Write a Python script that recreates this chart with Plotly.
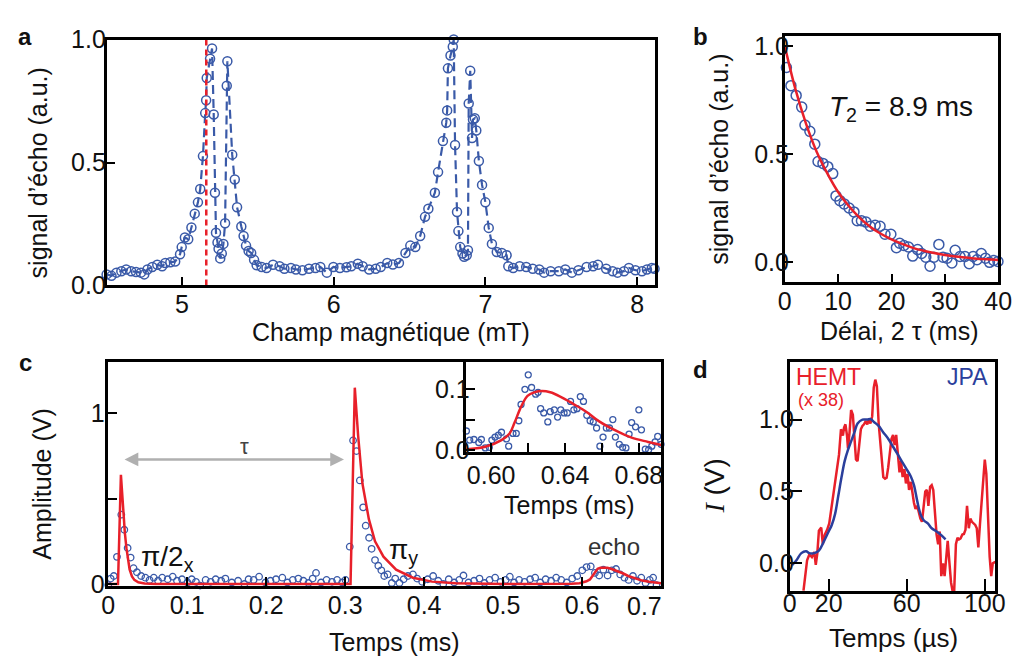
import plotly.graph_objects as go

W, H = 1025, 669
FONT = "Liberation Sans, Arial, sans-serif"
BLUE = "#3a5aa8"
RED = "#e8202a"
JPA_BLUE = "#2b3f9c"

# ---------------- panel a : echo vs magnetic field ----------------
field_mT = [
    4.503, 4.535, 4.568, 4.600, 4.632, 4.665, 4.697, 4.729, 4.751, 4.772,
    4.804, 4.837, 4.869, 4.890, 4.923, 4.955, 4.987,
    4.998, 5.019, 5.041, 5.062, 5.084, 5.105, 5.120, 5.138, 5.153, 5.159,
    5.163, 5.185, 5.198,
    5.209, 5.217, 5.224, 5.234, 5.241, 5.252, 5.262, 5.273, 5.284, 5.295,
    5.299,
    5.331, 5.348, 5.363, 5.391, 5.406, 5.422, 5.439, 5.456, 5.475, 5.492,
    5.525, 5.557, 5.600, 5.643, 5.675, 5.718, 5.751, 5.794, 5.837, 5.880,
    5.912, 5.955, 5.998, 6.041, 6.084, 6.116, 6.159, 6.191, 6.234, 6.277,
    6.310, 6.353, 6.390, 6.430,
    6.473, 6.505, 6.538, 6.570, 6.602, 6.624, 6.667, 6.688, 6.720, 6.742,
    6.748, 6.753, 6.770, 6.785, 6.791,
    6.800, 6.813, 6.822, 6.834, 6.849, 6.860, 6.877, 6.885, 6.890, 6.900,
    6.912, 6.918, 6.930, 6.940, 6.957,
    6.978, 7.000, 7.022, 7.043, 7.075, 7.108, 7.140, 7.151, 7.183, 7.226,
    7.269, 7.312, 7.355, 7.387, 7.430, 7.484, 7.527, 7.570, 7.613, 7.667,
    7.710, 7.742, 7.796, 7.839, 7.871, 7.914, 7.946, 7.989, 8.032, 8.065,
    8.097, 8.115,
]
echo_a = [
    0.045, 0.039, 0.052, 0.058, 0.065, 0.058, 0.055, 0.052, 0.045, 0.065,
    0.075, 0.084, 0.078, 0.091, 0.094, 0.097, 0.127,
    0.156, 0.195, 0.188, 0.236, 0.292, 0.338, 0.392, 0.526, 0.701, 0.753,
    0.844, 0.922, 0.964,
    0.695, 0.377, 0.214, 0.175, 0.149, 0.110, 0.130, 0.169, 0.253, 0.812,
    0.912,
    0.532, 0.431, 0.318, 0.240, 0.201, 0.162, 0.140, 0.132, 0.104, 0.082,
    0.075, 0.071, 0.084, 0.078, 0.068, 0.071, 0.065, 0.062, 0.068, 0.071,
    0.075, 0.052, 0.075, 0.071, 0.074, 0.078, 0.088, 0.078, 0.065, 0.068,
    0.075, 0.091, 0.085, 0.091,
    0.132, 0.162, 0.156, 0.201, 0.279, 0.312, 0.377, 0.461, 0.587, 0.662,
    0.712, 0.883, 0.935, 0.971, 1.000,
    0.571, 0.299, 0.221, 0.156, 0.130, 0.117, 0.123, 0.143, 0.740, 0.873,
    0.600, 0.675, 0.680, 0.630, 0.506,
    0.409, 0.338, 0.234, 0.169, 0.136, 0.132, 0.123, 0.078, 0.071, 0.078,
    0.075, 0.068, 0.065, 0.052, 0.058, 0.058, 0.065, 0.052, 0.062, 0.075,
    0.078, 0.084, 0.068, 0.058, 0.052, 0.058, 0.071, 0.062, 0.058, 0.065,
    0.071, 0.068,
]
resonance_field = 5.16

# ---------------- panel b : echo decay ----------------
delay_ms = [
    0.31, 1.16, 2.14, 3.18, 3.79, 4.71, 5.63, 6.24, 7.16, 8.07,
    8.99, 9.60, 10.34, 11.13, 12.05, 12.97, 13.58, 14.37, 15.23, 16.02,
    16.94, 17.86, 18.78, 19.88, 20.92, 21.53, 22.32, 23.18, 23.98, 24.89,
    25.63, 26.42, 27.22, 27.95, 28.87, 29.66, 30.40, 31.31, 31.93, 32.84,
    33.76, 34.56, 35.29, 36.02, 36.82, 37.61, 38.35, 39.14, 39.94,
]
echo_b = [
    0.900, 0.816, 0.771, 0.717, 0.634, 0.605, 0.546, 0.466, 0.457, 0.442,
    0.410, 0.307, 0.285, 0.270, 0.251, 0.233, 0.192, 0.192, 0.186, 0.167,
    0.171, 0.167, 0.130, 0.130, 0.068, 0.088, 0.078, 0.071, 0.029, 0.059,
    0.041, 0.024, -0.018, 0.024, 0.083, 0.024, 0.019, -0.003, 0.056, 0.027,
    0.027, -0.006, 0.027, 0.012, 0.041, 0.019, 0.000, 0.009, 0.004,
]
fit_b_delay = [0, 2, 4, 6, 8, 10, 12, 14, 16, 18, 20, 22, 24, 26, 28, 30, 32, 34, 36, 38, 40]
fit_b_echo = [1.0, 0.80, 0.64, 0.51, 0.41, 0.325, 0.26, 0.207, 0.165, 0.132, 0.106,
              0.085, 0.067, 0.054, 0.043, 0.034, 0.027, 0.022, 0.017, 0.014, 0.011]

# ---------------- panel c : pulse sequence ----------------
time_c = [
    0, 0.003, 0.007, 0.011, 0.0165, 0.0203, 0.0245, 0.0283, 0.032, 0.0363,
    0.0416, 0.047, 0.0523, 0.0576, 0.063, 0.0683, 0.0752, 0.0816, 0.087, 0.0934,
    0.1003, 0.1057, 0.111, 0.1163, 0.1233, 0.1297, 0.136, 0.143, 0.1483, 0.1564,
    0.1644, 0.1724, 0.1777, 0.1841, 0.191, 0.199, 0.2054, 0.2124, 0.2204, 0.2268,
    0.2337, 0.2407, 0.2471, 0.2535, 0.2588, 0.2631, 0.2695, 0.2764, 0.2833, 0.2898,
    0.2962, 0.3004, 0.3058, 0.31, 0.3143, 0.3186, 0.3228, 0.326, 0.3303, 0.3335,
    0.3378, 0.342, 0.3458, 0.3495, 0.3538, 0.3591, 0.3634, 0.3687, 0.374, 0.3794,
    0.3858, 0.3911, 0.3975, 0.4045, 0.4114, 0.4178, 0.4242, 0.4312, 0.4381, 0.4445,
    0.4498, 0.4562, 0.4632, 0.4701, 0.4765, 0.4829, 0.4899, 0.4968, 0.5032, 0.5085,
    0.5139, 0.5203, 0.5272, 0.5342, 0.5406, 0.547, 0.5539, 0.5608, 0.5672, 0.5736,
    0.5806, 0.5875, 0.5939, 0.6003, 0.6057, 0.611, 0.6163, 0.6217, 0.627, 0.6323,
    0.6377, 0.643, 0.6483, 0.6537, 0.659, 0.6644, 0.6697, 0.675, 0.6804, 0.6857,
    0.69, 0.6943,
]
amp_c = [
    -0.006, 0.032, 0.047, 0.159, 0.406, 0.318, 0.211, 0.155, 0.093, 0.069,
    0.047, 0.037, 0.024, 0.037, 0.019, 0.037, 0.028, 0.043, 0.019, 0.028,
    0.009, 0.028, 0.013, -0.009, 0.024, 0.013, 0.028, 0.019, 0.032, 0.009,
    0.019, 0.0, 0.028, 0.024, 0.043, 0.009, 0.019, 0.028, 0.037, 0.009,
    0.024, 0.032, 0.019, 0.006, 0.032, 0.065, 0.009, 0.024, 0.013, 0.024,
    0.009, 0.024, 0.219, 0.841, 0.779, 0.607, 0.449, 0.342, 0.271, 0.206,
    0.14, 0.107, 0.08, 0.047, 0.056, 0.006, 0.032, 0.006, 0.028, 0.047,
    0.056, 0.032, 0.013, 0.028, 0.047, 0.019, 0.0, 0.028, 0.009, 0.024,
    0.05, 0.009, 0.019, 0.032, 0.006, 0.024, 0.037, 0.013, 0.024, 0.043,
    0.009, 0.024, 0.013, 0.028, 0.037, 0.009, 0.028, 0.019, 0.037, 0.024,
    0.009, 0.032, 0.047, 0.08, 0.099, 0.103, 0.065, 0.05, 0.084, 0.05,
    0.08, 0.088, 0.056, 0.037, 0.024, 0.047, 0.019, 0.037, 0.006, 0.024,
    0.037, -0.006,
]
fit_c_time = [
    0, 0.0123, 0.016, 0.0185, 0.021, 0.023, 0.025, 0.027, 0.030, 0.033, 0.038, 0.046, 0.06,
    0.30, 0.3068, 0.3122, 0.3164, 0.3218, 0.330, 0.3378, 0.3485, 0.3645, 0.3858, 0.41, 0.44,
    0.50, 0.58, 0.5866, 0.5968, 0.6056, 0.610, 0.6127, 0.6162, 0.6197, 0.6233, 0.6277,
    0.632, 0.6374, 0.6444, 0.6515, 0.6585, 0.6673, 0.6761, 0.685, 0.692, 0.70,
]
fit_c_amp = [
    0, 0, 0.64, 0.46, 0.30, 0.21, 0.14, 0.085, 0.045, 0.024, 0.01, 0.003, 0,
    0, 0, 1.15, 0.87, 0.59, 0.38, 0.25, 0.16, 0.084, 0.037, 0.014, 0.004,
    0, 0, 0.001, 0.005, 0.016, 0.027, 0.045, 0.071, 0.089, 0.095, 0.097,
    0.095, 0.088, 0.076, 0.063, 0.047, 0.032, 0.020, 0.013, 0.008, 0.005,
]
tau_arrow_time = [0.0187, 0.2985]
tau_arrow_amp = 0.73

# inset (echo zoom)
time_echo = [
    0.5866, 0.5884, 0.5907, 0.5933, 0.5947, 0.5968, 0.599, 0.6004, 0.6021, 0.6039,
    0.6056, 0.6083, 0.6095, 0.6118, 0.6136, 0.615, 0.6162, 0.6183, 0.6201, 0.6219,
    0.6241, 0.6254, 0.6268, 0.6285, 0.6307, 0.632, 0.6342, 0.636, 0.6377, 0.6395,
    0.6412, 0.643, 0.6448, 0.6465, 0.6483, 0.65, 0.6518, 0.6536, 0.6553, 0.6571,
    0.6589, 0.6606, 0.6624, 0.6641, 0.6659, 0.6673, 0.6694, 0.6712, 0.673, 0.6747,
    0.6761, 0.6782, 0.68, 0.6814, 0.6835, 0.6853, 0.687, 0.6888, 0.6902, 0.692,
]
amp_echo = [
    0.031, 0.016, 0.017, 0.012, 0.017, 0.003, 0.004, 0.016, 0.021, 0.024,
    0.029, 0.018, 0.006, 0.027, 0.027, 0.048, 0.075, 0.100, 0.124, 0.103,
    0.092, 0.095, 0.068, 0.061, 0.046, 0.063, 0.066, 0.054, 0.066, 0.061,
    0.061, 0.080, 0.066, 0.068, 0.088, 0.080, 0.057, 0.048, 0.046, 0.036,
    0.006, 0.021, 0.036, 0.036, 0.050, 0.021, 0.009, 0.004, 0.003, 0.026,
    0.045, 0.038, 0.066, 0.033, 0.001, 0.000, 0.006, 0.013, 0.022, 0.009,
]

# ---------------- panel d : HEMT vs JPA ----------------
jpa_time = [
    1.36, 3.5, 6.0, 8.45, 10.1, 12.6, 15.0, 17.5, 20.0, 21.6,
    23.3, 24.9, 26.6, 28.2, 29.9, 31.5, 33.2, 34.8, 37.3, 39.8,
    41.4, 43.4, 45.6, 48.0, 50.5, 53.0, 55.5, 57.9, 59.9, 62.1,
    63.7, 65.4, 67.0, 68.7, 70.8, 72.8, 75.3, 77.7, 79.9,
]
jpa_I = [
    -0.011, 0.022, 0.071, 0.084, 0.071, 0.071, 0.089, 0.151, 0.222, 0.267,
    0.344, 0.467, 0.600, 0.711, 0.789, 0.849, 0.911, 0.973, 1.000, 1.000,
    1.004, 0.982, 0.956, 0.911, 0.867, 0.811, 0.756, 0.700, 0.656, 0.604,
    0.544, 0.433, 0.344, 0.300, 0.278, 0.244, 0.222, 0.196, 0.167,
]
hemt_time = [
    7.1, 8.1, 8.95, 10.1, 11.4, 12.6, 13.4, 14.2, 15.0, 16.2,
    17.0, 18.0, 19.2, 20.3, 21.6, 23.0, 24.1, 25.3, 26.3, 27.3,
    27.9, 28.6, 29.4, 29.9, 30.7, 31.5, 32.4, 33.2, 34.0, 34.8,
    35.7, 36.5, 37.3, 38.1, 39.0, 39.8, 40.6, 41.4, 42.3, 43.1,
    43.9, 44.7, 45.6, 46.4, 47.2, 48.0, 48.9, 49.7, 50.5, 51.3,
    52.2, 53.0, 53.8, 54.6, 55.5, 56.3, 57.1, 57.9, 58.8, 59.6,
    60.4, 61.2, 62.1, 62.9, 63.7, 64.5, 65.4, 66.2, 67.0, 67.8,
    68.7, 69.5, 70.3, 71.1, 72.0, 72.8, 73.6, 74.4, 75.3, 76.1,
    76.9, 77.7, 78.6, 79.4, 80.2, 81.0, 81.9, 82.7, 83.5, 84.3,
    85.2, 86.0, 86.8, 87.6, 88.5, 89.3, 90.1, 90.9, 91.8, 92.6,
    93.4, 94.2, 95.1, 95.9, 96.7, 97.5, 98.4, 99.2, 100.0, 100.8,
    101.6, 102.5, 103.3, 104.1, 105.4,
]
hemt_I = [
    -0.19, -0.089, 0.022, 0.062, 0.044, 0.078, -0.011, 0.071, 0.227, 0.249,
    0.133, 0.200, 0.233, 0.278, 0.400, 0.533, 0.622, 0.756, 0.933, 0.889,
    0.944, 0.967, 0.889, 0.800, 0.911, 1.067, 1.033, 0.889, 0.722, 0.711,
    0.822, 0.933, 0.956, 0.967, 0.989, 0.967, 1.000, 0.973, 1.022, 1.222,
    1.278, 1.233, 0.978, 0.844, 0.711, 0.600, 0.589, 0.596, 0.667, 0.778,
    0.867, 0.893, 0.822, 0.893, 0.778, 0.633, 0.711, 0.600, 0.656, 0.556,
    0.622, 0.511, 0.567, 0.478, 0.422, 0.378, 0.400, 0.356, 0.311, 0.289,
    0.389, 0.500, 0.511, 0.400, 0.533, 0.544, 0.511, 0.378, 0.200, 0.133,
    0.222, -0.089, 0.000, -0.089, 0.044, 0.156, 0.000, -0.133, -0.193, -0.200,
    0.133, 0.178, 0.167, 0.173, 0.200, 0.204, 0.233, 0.400, 0.244, 0.311,
    0.289, 0.278, 0.267, 0.244, 0.111, 0.267, 0.444, 0.622, 0.722, 0.622,
    0.356, 0.044, -0.089, 0.000, 0.011,
]


def px(x):
    return x / W


def py(y):
    return 1 - y / H


fig = go.Figure()

# panel a
fig.add_trace(go.Scatter(x=field_mT, y=echo_a, xaxis="x", yaxis="y", mode="lines+markers",
                         line=dict(color=BLUE, width=2.2, dash="9px,5px"),
                         marker=dict(symbol="circle-open", size=9, color=BLUE, line=dict(width=1.5)),
                         cliponaxis=False))
fig.add_trace(go.Scatter(x=[resonance_field, resonance_field], y=[0, 1.0], xaxis="x", yaxis="y",
                         mode="lines", line=dict(color=RED, width=2.5, dash="6px,4px")))

# panel b
fig.add_trace(go.Scatter(x=delay_ms, y=echo_b, xaxis="x2", yaxis="y2", mode="markers",
                         marker=dict(symbol="circle-open", size=10, color=BLUE, line=dict(width=1.5)),
                         cliponaxis=False))
fig.add_trace(go.Scatter(x=fit_b_delay, y=fit_b_echo, xaxis="x2", yaxis="y2", mode="lines",
                         line=dict(color=RED, width=2.5, shape="spline")))

# panel c
fig.add_trace(go.Scatter(x=time_c, y=amp_c, xaxis="x3", yaxis="y3", mode="markers",
                         marker=dict(symbol="circle-open", size=6.5, color=BLUE, line=dict(width=1.3)),
                         cliponaxis=False))
fig.add_trace(go.Scatter(x=fit_c_time, y=fit_c_amp, xaxis="x3", yaxis="y3", mode="lines",
                         line=dict(color=RED, width=2.5)))

# inset
fig.add_trace(go.Scatter(x=time_echo, y=amp_echo, xaxis="x4", yaxis="y4", mode="markers",
                         marker=dict(symbol="circle-open", size=6, color=BLUE, line=dict(width=1.3)),
                         cliponaxis=False))
fig.add_trace(go.Scatter(x=fit_c_time, y=fit_c_amp, xaxis="x4", yaxis="y4", mode="lines",
                         line=dict(color=RED, width=2.5, shape="spline")))

# panel d
fig.add_trace(go.Scatter(x=hemt_time, y=hemt_I, xaxis="x5", yaxis="y5", mode="lines",
                         line=dict(color=RED, width=2.5)))
fig.add_trace(go.Scatter(x=jpa_time, y=jpa_I, xaxis="x5", yaxis="y5", mode="lines",
                         line=dict(color=JPA_BLUE, width=2.5, shape="spline")))


def axis(domain, rng, anchor, tickvals, ticktext=None, size=25, standoff=0, **kw):
    d = dict(domain=domain, range=rng, anchor=anchor, showline=True, linecolor="black",
             linewidth=2.5, mirror=True, ticks="inside", ticklen=9, tickwidth=2,
             tickcolor="black", showgrid=False, zeroline=False, fixedrange=True,
             tickvals=tickvals, ticklabelstandoff=standoff,
             tickfont=dict(size=size, color="#111", family=FONT))
    if ticktext is not None:
        d["ticktext"] = ticktext
    d.update(kw)
    return d


fig.update_layout(
    width=W, height=H, autosize=False, showlegend=False,
    margin=dict(l=0, r=0, t=0, b=0),
    paper_bgcolor="white", plot_bgcolor="white",
    xaxis=axis([px(101.7), px(661.7)], [4.503, 8.119], "y", [5, 6, 7, 8], standoff=-5),
    yaxis=axis([py(283.3), py(26.7)], [0, 1.0], "x", [0, 0.5, 1.0], ["0.0", "0.5", "1.0"],
               standoff=-7),
    xaxis2=axis([px(794), px(1012)], [0, 40], "y2", [0, 10, 20, 30, 40], standoff=-5),
    yaxis2=axis([py(280), py(23.3)], [-0.092, 1.044], "x2", [0, 0.5, 1.0], ["0.0", "0.5", "1.0"],
                standoff=-12),
    xaxis3=axis([px(103.4), px(667.7)], [0, 0.70], "y3", [0, 0.1, 0.2, 0.3, 0.4, 0.5, 0.6],
                ["0", "0.1", "0.2", "0.3", "0.4", "0.5", "0.6"], standoff=-4),
    yaxis3=axis([py(596.7), py(363.3)], [-0.01, 1.30], "x3", [0, 0.5, 1.0], ["0", "", "1"],
                standoff=-4),
    xaxis4=axis([px(469), px(667.7)], [0.5866, 0.692], "y4", [0.60, 0.64, 0.68],
                ["0.60", "0.64", "0.68"], standoff=0,
                minor=dict(tickvals=[0.62, 0.66], ticks="inside", ticklen=9, tickwidth=2, tickcolor="black")),
    yaxis4=axis([py(456.7), py(363.3)], [-0.003, 0.145], "x4", [0, 0.1], ["0.0", "0.1"],
                standoff=-11,
                minor=dict(tickvals=[0.05], ticks="inside", ticklen=9, tickwidth=2, tickcolor="black")),
    xaxis5=axis([px(799), px(1009)], [0, 105.4], "y5", [0, 20, 60, 100], standoff=-12, ticklen=12),
    yaxis5=axis([py(602.3), py(363.3)], [-0.193, 1.4], "x5", [0, 0.5, 1.0], ["0.0", "0.5", "1.0"],
                standoff=-12, ticklen=13),
)


def note(text, x, y, size=25, color="#111", angle=0, **kw):
    fig.add_annotation(text=text, x=px(x), y=py(y), xref="paper", yref="paper",
                       showarrow=False, textangle=angle, xanchor="center", yanchor="middle",
                       font=dict(size=size, color=color, family=FONT), **kw)


# panel letters
note("<b>a</b>", 18, 23, 24)
note("<b>b</b>", 708, 24, 24)
note("<b>c</b>", 19, 364, 24)
note("<b>d</b>", 708, 371, 24)

# axis titles
note("Champ magnétique (mT)", 392, 332, 25)
note("signal d’écho (a.u.)", 32, 166, 25, angle=-90)
note("Délai, 2 τ (ms)", 911, 331, 25)
note("signal d’écho (a.u.)", 727, 152, 25, angle=-90)
note("Temps (ms)", 396, 655, 25)
note("Amplitude (V)", 36, 491, 25, angle=-90)
note("Temps (ms)", 574, 512, 25)
note("Temps (µs)", 905, 651, 26)
note('<span style="font-family:Liberation Serif"><i>I</i></span> (V)', 722, 493, 28, angle=-90)

# extra tick label at right end of panel c
note("0.7", 651, 618, 25)

# in-plot labels
note("<i>T</i><sub>2</sub> = 8.9 ms", 913, 99, 28)
note("π/2<sub>x</sub>", 164, 568, 28)
note("π<sub>y</sub>", 405, 561, 28)
note("echo", 620, 556, 24, color="#333")
note("τ", 242, 451, 22, color="#444")
note("HEMT", 839, 379, 23, color=RED)
note("(x 38)", 831, 403, 18, color=RED)
note("JPA", 981, 379, 23, color=JPA_BLUE)

# tau arrow
fig.add_annotation(x=tau_arrow_time[1], y=tau_arrow_amp, ax=tau_arrow_time[0], ay=tau_arrow_amp,
                   xref="x3", yref="y3", axref="x3", ayref="y3", text="", showarrow=True,
                   arrowhead=2, arrowside="end+start", arrowsize=1.1, arrowwidth=2.5,
                   arrowcolor="#b0b0b0")

fig.write_html("out.html", config={"displayModeBar": False},
               post_script="document.body.style.margin='0px';document.body.style.overflow='hidden';")
